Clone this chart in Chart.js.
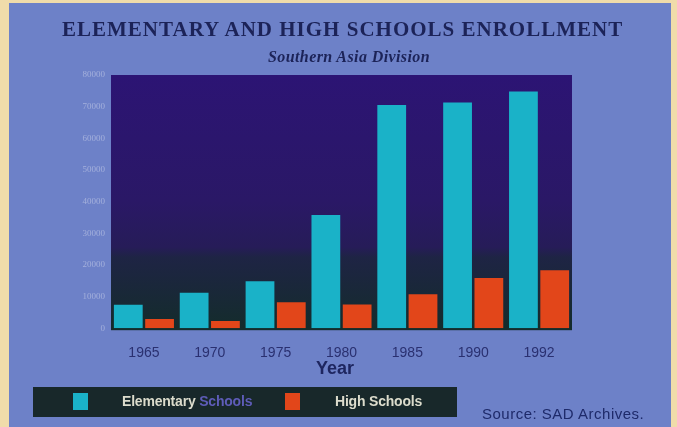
<!DOCTYPE html>
<html>
<head>
<meta charset="utf-8">
<script src="https://cdn.jsdelivr.net/npm/chart.js@4/dist/chart.umd.min.js"></script>
<style>
  html, body { margin: 0; padding: 0; background: #f0dcaa; }
  #wrap { position: relative; width: 677px; height: 427px; overflow: hidden; }
  #c { position: absolute; left: 0; top: 0; }
  .ttl { position: absolute; white-space: nowrap; color: #1c2358; font-family: "Liberation Serif", "Times New Roman", serif; font-weight: bold; }
  #title { left: 62px; top: 17px; font-size: 21px; letter-spacing: 1px; }
  #subtitle { left: 268px; top: 48px; font-size: 16px; font-style: italic; letter-spacing: 0.4px; }
  #xtitle { position: absolute; left: 316px; top: 358px; font-family: "Liberation Sans", Arial, sans-serif; font-weight: bold; font-size: 18px; color: #1e2660; }
  #legend { position: absolute; left: 33px; top: 387px; width: 424px; height: 30px;
    background: #18282a; font-family: "Liberation Sans", Arial, sans-serif; font-weight: bold; font-size: 14px; color: #dcdccc; }
  #legend .sw { position: absolute; top: 6px; width: 15px; height: 17px; }
  #legend .tx { position: absolute; top: 6px; white-space: nowrap; letter-spacing: -0.2px; }
  #source { position: absolute; left: 482px; top: 405px; font-family: "Liberation Sans", Arial, sans-serif;
    font-size: 15px; letter-spacing: 0.5px; color: #1e2a6a; white-space: nowrap; }
</style>
</head>
<body>
<div id="wrap">
  <canvas id="c" width="677" height="427"></canvas>
  <div id="title" class="ttl">ELEMENTARY  AND HIGH SCHOOLS ENROLLMENT</div>
  <div id="subtitle" class="ttl">Southern Asia Division</div>
  <div id="xtitle">Year</div>
  <div id="legend">
    <div class="sw" style="left:40px;background:#1ab2c8"></div>
    <div class="tx" style="left:89px">Elementary <span style="color:#5e5cb8">Schools</span></div>
    <div class="sw" style="left:252px;background:#e2461a"></div>
    <div class="tx" style="left:302px">High Schools</div>
  </div>
  <div id="source">Source: SAD Archives.</div>
</div>
<script>
const years = ["1965", "1970", "1975", "1980", "1985", "1990", "1992"];
const elementary = [7400, 11200, 14800, 35800, 70500, 71300, 74800];
const highSchools = [2900, 2300, 8200, 7500, 10700, 15900, 18300];
const yTicks = [0, 10000, 20000, 30000, 40000, 50000, 60000, 70000, 80000];

const bgPlugin = {
  id: 'bg',
  beforeDraw(chart) {
    const ctx = chart.ctx;
    ctx.save();
    ctx.fillStyle = '#f0dcaa';
    ctx.fillRect(0, 0, chart.width, chart.height);
    ctx.fillStyle = '#6d81c8';
    ctx.fillRect(9, 3, 662, 424);
    const a = chart.chartArea;
    const g = ctx.createLinearGradient(0, a.top, 0, a.bottom);
    g.addColorStop(0, '#2c1474');
    g.addColorStop(0.5, '#2a1866');
    g.addColorStop(0.68, '#261c58');
    g.addColorStop(0.72, '#1e2444');
    g.addColorStop(1, '#142c2c');
    ctx.fillStyle = g;
    ctx.fillRect(a.left, a.top, a.right - a.left, a.bottom - a.top + 2);
    ctx.restore();
  }
};

new Chart(document.getElementById('c'), {
  type: 'bar',
  data: {
    labels: years,
    datasets: [
      { label: 'Elementary Schools', data: elementary, backgroundColor: '#1ab2c8',
        categoryPercentage: 0.95, barPercentage: 0.92 },
      { label: 'High Schools', data: highSchools, backgroundColor: '#e2461a',
        categoryPercentage: 0.95, barPercentage: 0.92 }
    ]
  },
  plugins: [bgPlugin],
  options: {
    responsive: false,
    animation: false,
    devicePixelRatio: 1,
    layout: { padding: { left: 0, right: 105, top: 75, bottom: 48 } },
    plugins: {
      legend: { display: false },
      tooltip: { enabled: false },
      title: { display: false }
    },
    scales: {
      x: {
        grid: { display: false, drawTicks: false },
        border: { display: false },
        ticks: { color: '#2a3070', padding: 17, font: { family: '"Liberation Sans", Arial, sans-serif', size: 14 } }
      },
      y: {
        min: 0, max: 80000,
        afterFit(scale) { scale.width = 111; },
        afterBuildTicks(scale) { scale.ticks = yTicks.map(v => ({ value: v })); },
        grid: { display: false, drawTicks: false },
        border: { display: false },
        ticks: { color: '#a4b0dc', padding: 6, font: { family: '"Liberation Serif", serif', size: 9 },
          callback: v => String(v) }
      }
    }
  }
});
</script>
</body>
</html>
